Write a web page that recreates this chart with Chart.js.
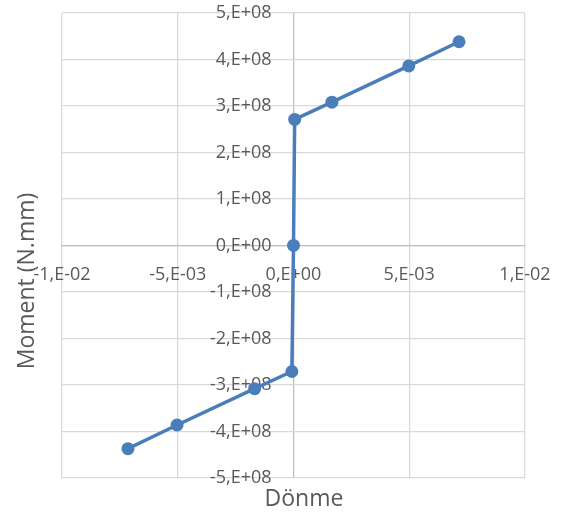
<!DOCTYPE html>
<html lang="tr">
<head>
  <meta charset="UTF-8">
  <title>Moment - Dönme</title>
  <script src="https://cdn.jsdelivr.net/npm/chart.js"></script>
  <style>
    body {
      margin: 0;
      padding: 0;
      background: #ffffff;
    }
    .chart-box {
      position: relative;
      width: 562px;
      height: 515px;
    }
  </style>
</head>
<body>
  <div class="chart-box">
    <canvas id="momentChart"></canvas>
  </div>

  <script>
    // rotation (Dönme) and moment values
    const rotation = [-0.00715, -0.00503, -0.00168, -0.00007, 0, 0.00005, 0.00166, 0.00498, 0.00715];
    const moment = [-4.37e8, -3.86e8, -3.08e8, -2.71e8, 0, 2.71e8, 3.08e8, 3.86e8, 4.38e8];

    // axis ticks and their labels (Excel style)
    const xTicks = [-0.01, -0.005, 0, 0.005, 0.01];
    const xTickLabels = ['-1,E-02', '-5,E-03', '0,E+00', '5,E-03', '1,E-02'];
    const yTicks = [-5e8, -4e8, -3e8, -2e8, -1e8, 0, 1e8, 2e8, 3e8, 4e8, 5e8];
    const yTickLabels = ['-5,E+08', '-4,E+08', '-3,E+08', '-2,E+08', '-1,E+08', '0,E+00',
                         '1,E+08', '2,E+08', '3,E+08', '4,E+08', '5,E+08'];

    const xTitle = 'Dönme';
    const yTitle = 'Moment (N.mm)';

    const textColor = '#595959';
    const gridColor = '#d9d9d9';
    const axisColor = '#bfbfbf';
    const lineColor = '#4a7ebb';
    const fontFamily = '"Open Sans", "Liberation Sans", sans-serif';

    // axis titles sit at the chart edges, not next to the centred axes
    const axisTitles = {
      id: 'axisTitles',
      afterDraw(chart) {
        const ctx = chart.ctx;
        const area = chart.chartArea;
        ctx.save();
        ctx.fillStyle = textColor;
        ctx.font = '23px ' + fontFamily;
        ctx.textAlign = 'center';
        ctx.textBaseline = 'middle';
        ctx.fillText(xTitle, 304, area.bottom + 21);
        ctx.translate(27, 281);
        ctx.rotate(-Math.PI / 2);
        ctx.fillText(yTitle, 0, 0);
        ctx.restore();
      }
    };

    const ctx = document.getElementById('momentChart').getContext('2d');
    const momentChart = new Chart(ctx, {
      type: 'scatter',
      data: {
        datasets: [{
          label: yTitle,
          data: rotation.map((r, i) => ({ x: r, y: moment[i] })),
          showLine: true,
          borderColor: lineColor,
          backgroundColor: lineColor,
          borderWidth: 3.5,
          pointRadius: 6.5,
          pointHoverRadius: 6.5,
          pointBorderWidth: 0,
          tension: 0
        }]
      },
      options: {
        responsive: true,
        maintainAspectRatio: false,
        animation: false,
        layout: {
          padding: { left: 62, right: 37, top: 0, bottom: 37 }
        },
        plugins: {
          legend: { display: false },
          tooltip: { enabled: false }
        },
        scales: {
          x: {
            type: 'linear',
            position: { y: 0 },
            min: -0.01,
            max: 0.01,
            afterBuildTicks: (scale) => {
              scale.ticks = xTicks.map(v => ({ value: v }));
            },
            grid: {
              // the vertical line at 0 is the y axis line
              color: (c) => (c.tick && c.tick.value === 0 ? axisColor : gridColor),
              lineWidth: 1.3,
              drawTicks: true,
              tickLength: 14,
              tickColor: 'rgba(0,0,0,0)'
            },
            border: { display: true, color: axisColor, width: 1.3 },
            ticks: {
              padding: 5,
              color: textColor,
              font: { family: fontFamily, size: 18 },
              maxRotation: 0,
              autoSkip: false,
              callback: (value, index) => xTickLabels[index]
            }
          },
          y: {
            type: 'linear',
            // labels end a little left of the zero line, as in Excel
            position: { x: -0.00095 },
            min: -5e8,
            max: 5e8,
            afterBuildTicks: (scale) => {
              scale.ticks = yTicks.map(v => ({ value: v }));
            },
            grid: {
              color: gridColor,
              lineWidth: 1.3,
              drawTicks: false
            },
            border: { display: false },
            ticks: {
              color: textColor,
              font: { family: fontFamily, size: 18, lineHeight: 1.1 },
              autoSkip: false,
              callback: (value, index) => yTickLabels[index]
            }
          }
        }
      },
      plugins: [axisTitles]
    });
  </script>
</body>
</html>
